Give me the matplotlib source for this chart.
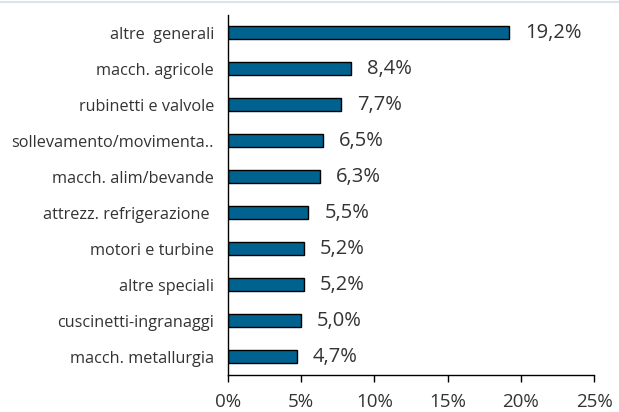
import numpy as np
import matplotlib.pyplot as plt
from matplotlib.lines import Line2D
from matplotlib.ticker import FuncFormatter

## data
categorie = ["altre  generali", "macch. agricole", "rubinetti e valvole",
             "sollevamento/movimenta..", "macch. alim/bevande",
             "attrezz. refrigerazione ", "motori e turbine", "altre speciali",
             "cuscinetti-ingranaggi", "macch. metallurgia"]
quote = [19.2, 8.4, 7.7, 6.5, 6.3, 5.5, 5.2, 5.2, 5.0, 4.7]
x_ticks = [0, 5, 10, 15, 20, 25]

plt.rcParams['font.family'] = ['Open Sans', 'DejaVu Sans']
testo = "#333333"

fig = plt.figure(figsize=(6.19, 4.12), dpi=100)
ax = fig.add_axes([0.368, 0.09, 0.592, 0.874])

y = np.arange(len(categorie))
ax.barh(y, quote, height=0.36, color="#00628f", edgecolor="black", linewidth=1)

## value labels
for yi, v in zip(y, quote):
    ax.text(v + 1.1, yi, f"{v:.1f}%".replace(".", ","), va="center", ha="left",
            fontsize=14.5, color=testo)

ax.set_ylim(len(categorie) - 0.5, -0.5)
ax.set_xlim(0, 25)
ax.set_yticks(y)
ax.set_yticklabels(categorie, fontsize=11.7, color=testo)
ax.set_xticks(x_ticks)
ax.xaxis.set_major_formatter(FuncFormatter(lambda v, p: f"{v:.0f}%"))
ax.tick_params(axis="x", labelsize=13.5, labelcolor=testo, length=5, width=1, pad=8)
ax.tick_params(axis="y", length=0, pad=10)

for s in ["top", "right"]:
    ax.spines[s].set_visible(False)
ax.spines["left"].set_linewidth(1)
ax.spines["bottom"].set_linewidth(1)

## thin border at the top
fig.add_artist(Line2D([0, 1], [0.995, 0.995], color="#dde3ea", linewidth=1.5))

fig.savefig("out.png", dpi=100)
